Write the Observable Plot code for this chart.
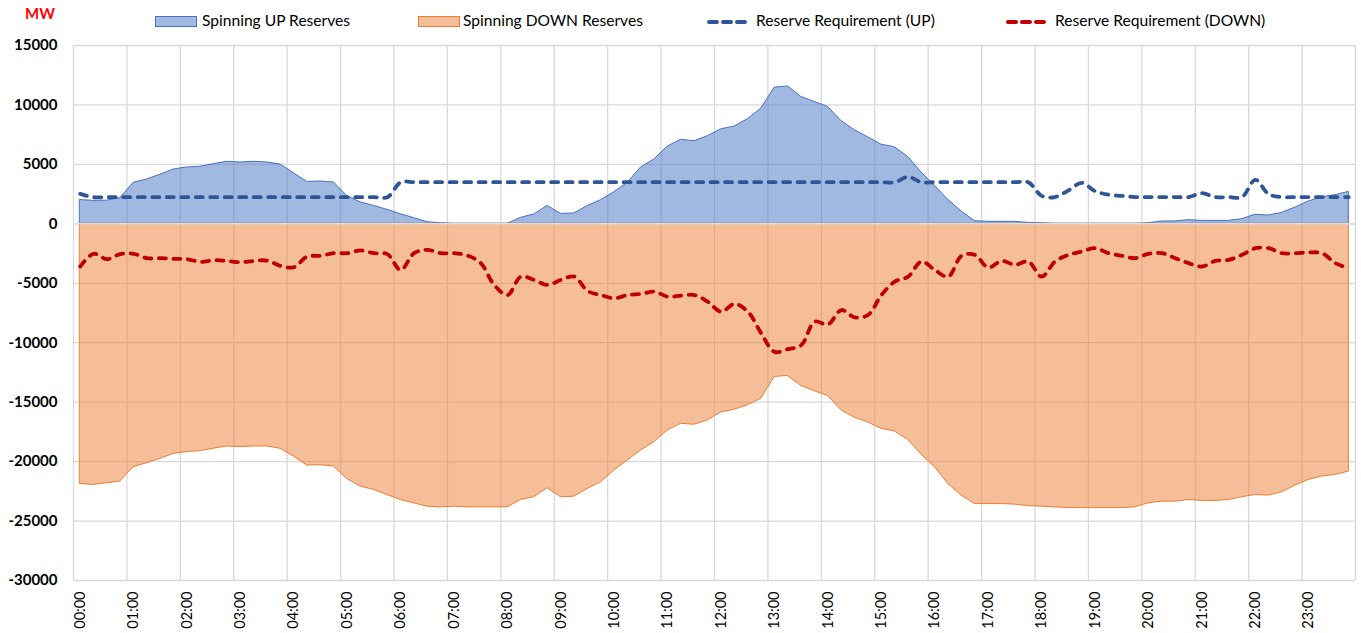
<!DOCTYPE html>
<html>
<head>
<meta charset="utf-8">
<script src="https://cdn.jsdelivr.net/npm/d3@7"></script>
<script src="https://cdn.jsdelivr.net/npm/@observablehq/plot@0.6"></script>
<style>
  html, body { margin: 0; padding: 0; background: #fff; }
  body { width: 1361px; height: 633px; overflow: hidden; font-family: Lato, "Open Sans", sans-serif; }
  #legend { position: relative; height: 36px; width: 1361px; }
  #legend .t { position: absolute; top: 11px; font-size: 15.6px; color: #000; line-height: 18px; white-space: nowrap; }
  #legend svg { position: absolute; }
  #mw { position: absolute; left: 25px; top: 5px; color: #ff0000; font-weight: bold; font-size: 15px; line-height: 16px; }
</style>
</head>
<body>
<div id="legend">
  <div id="mw">MW</div>
  <svg style="left:154px;top:15px" width="46" height="14"><rect x="1.5" y="1.5" width="41" height="10" fill="#4472c4" fill-opacity="0.5" stroke="#4472c4" stroke-width="1"/></svg>
  <div class="t" style="left:202px">Spinning UP Reserves</div>
  <svg style="left:417px;top:15px" width="46" height="14"><rect x="1.5" y="1.5" width="41" height="10" fill="#ed7d31" fill-opacity="0.5" stroke="#ed7d31" stroke-width="1"/></svg>
  <div class="t" style="left:463px">Spinning DOWN Reserves</div>
  <svg style="left:706px;top:15px" width="46" height="14"><line x1="3" y1="7" x2="42" y2="7" stroke="#2f5597" stroke-width="4" stroke-linecap="round" stroke-dasharray="8,6"/></svg>
  <div class="t" style="left:756px">Reserve Requirement (UP)</div>
  <svg style="left:1005px;top:15px" width="46" height="14"><line x1="3" y1="7" x2="42" y2="7" stroke="#c00000" stroke-width="4" stroke-linecap="round" stroke-dasharray="8,6"/></svg>
  <div class="t" style="left:1055px">Reserve Requirement (DOWN)</div>
</div>
<div id="chart"></div>
<script>
// 15-minute categories
const times = [
  "00:00","00:15","00:30","00:45","01:00","01:15","01:30","01:45",
  "02:00","02:15","02:30","02:45","03:00","03:15","03:30","03:45",
  "04:00","04:15","04:30","04:45","05:00","05:15","05:30","05:45",
  "06:00","06:15","06:30","06:45","07:00","07:15","07:30","07:45",
  "08:00","08:15","08:30","08:45","09:00","09:15","09:30","09:45",
  "10:00","10:15","10:30","10:45","11:00","11:15","11:30","11:45",
  "12:00","12:15","12:30","12:45","13:00","13:15","13:30","13:45",
  "14:00","14:15","14:30","14:45","15:00","15:15","15:30","15:45",
  "16:00","16:15","16:30","16:45","17:00","17:15","17:30","17:45",
  "18:00","18:15","18:30","18:45","19:00","19:15","19:30","19:45",
  "20:00","20:15","20:30","20:45","21:00","21:15","21:30","21:45",
  "22:00","22:15","22:30","22:45","23:00","23:15","23:30","23:45"
];

const hourLabels = ["00:00","01:00","02:00","03:00","04:00","05:00","06:00","07:00",
  "08:00","09:00","10:00","11:00","12:00","13:00","14:00","15:00",
  "16:00","17:00","18:00","19:00","20:00","21:00","22:00","23:00"];

const yTicks = [-30000,-25000,-20000,-15000,-10000,-5000,0,5000,10000,15000];

const spinningUp = [
  2000,1930,1950,2150,3450,3730,4120,4570,4740,4800,5020,5220,5160,5220,5160,4990,
  4260,3530,3560,3480,2330,1800,1510,1180,810,480,140,50,0,0,0,0,
  0,500,790,1510,840,870,1490,1990,2660,3450,4740,5410,6500,7070,6950,7370,
  7950,8180,8800,9690,11450,11560,10670,10250,9830,8650,7870,7280,6660,6440,5630,4310,
  3190,2020,1040,220,170,170,170,80,50,0,0,0,0,0,0,0,
  50,200,200,310,250,250,250,390,760,700,920,1370,1880,2240,2410,2690
];

const spinningDown = [
  -21880,-21960,-21820,-21680,-20470,-20130,-19770,-19350,-19200,-19120,-18920,-18730,-18780,-18730,-18730,-18920,
  -19570,-20330,-20300,-20420,-21460,-22100,-22380,-22810,-23230,-23510,-23790,-23850,-23790,-23850,-23850,-23850,
  -23850,-23230,-23000,-22240,-23000,-22950,-22300,-21740,-20750,-19910,-19060,-18360,-17380,-16820,-16900,-16530,
  -15860,-15630,-15270,-14710,-12880,-12790,-13640,-14090,-14480,-15690,-16310,-16700,-17240,-17460,-18170,-19400,
  -20470,-21880,-22860,-23570,-23570,-23570,-23620,-23740,-23790,-23850,-23910,-23910,-23910,-23910,-23910,-23850,
  -23510,-23370,-23370,-23230,-23310,-23310,-23230,-23000,-22810,-22860,-22580,-22020,-21540,-21260,-21120,-20840
];

const requirementUp = [
  2520,2240,2240,2240,2240,2240,2240,2240,2240,2240,2240,2240,2240,2240,2240,2240,
  2240,2240,2240,2240,2240,2240,2240,2240,3500,3500,3500,3500,3500,3500,3500,3500,
  3500,3500,3500,3500,3500,3500,3500,3500,3500,3500,3500,3500,3500,3500,3500,3500,
  3500,3500,3500,3500,3500,3500,3500,3500,3500,3500,3500,3500,3500,3500,3950,3500,
  3500,3500,3500,3500,3500,3500,3500,3500,2350,2250,2800,3450,2750,2450,2350,2250,
  2250,2250,2250,2250,2580,2250,2250,2250,3700,2490,2250,2250,2250,2250,2250,2250
];

const requirementDown = [
  -3590,-2520,-2970,-2550,-2520,-2890,-2890,-2950,-2970,-3200,-3060,-3120,-3230,-3120,-3090,-3540,
  -3650,-2750,-2690,-2470,-2470,-2240,-2470,-2550,-3880,-2470,-2190,-2470,-2470,-2670,-3310,-5140,
  -5990,-4440,-4720,-5140,-4720,-4440,-5650,-5990,-6270,-5990,-5900,-5700,-6130,-6040,-5990,-6550,
  -7390,-6740,-7390,-9220,-10770,-10540,-10200,-8240,-8460,-7250,-7870,-7670,-5990,-4860,-4440,-3170,
  -3880,-4440,-2690,-2610,-3680,-3120,-3450,-3170,-4440,-3170,-2610,-2330,-2050,-2470,-2690,-2890,
  -2520,-2470,-2890,-3310,-3590,-3120,-3030,-2610,-2050,-2050,-2470,-2470,-2410,-2470,-3310,-3730
];

const rows = times.map((t, i) => ({
  i, t,
  up: spinningUp[i],
  down: spinningDown[i],
  reqUp: requirementUp[i],
  reqDown: requirementDown[i]
}));

const hourIdx = hourLabels.map(h => times.indexOf(h));
const boundaries = hourIdx.map(i => i - 0.5).concat([times.length - 0.5]);

const chart = Plot.plot({
  width: 1361,
  height: 597,
  marginTop: 9,
  marginLeft: 73,
  marginRight: 6,
  marginBottom: 53,
  style: { fontFamily: "Lato, 'Open Sans', sans-serif", fontSize: "14px", background: "#fff", color: "#000" },
  x: { type: "linear", domain: [-0.5, times.length - 0.5] },
  y: { domain: [-30000, 15000] },
  marks: [
    Plot.ruleY(yTicks, { stroke: "#d9d9d9", strokeWidth: 1.3 }),
    Plot.ruleX(boundaries, { stroke: "#d9d9d9", strokeWidth: 1.3 }),
    Plot.areaY(rows, { x: "i", y: "up", fill: "#4472c4", fillOpacity: 0.5, stroke: "#4472c4", strokeWidth: 1 }),
    Plot.areaY(rows, { x: "i", y: "down", fill: "#ed7d31", fillOpacity: 0.5, stroke: "#ed7d31", strokeWidth: 1 }),
    Plot.ruleY([0], { stroke: "#dedede", strokeWidth: 1.5 }),
    Plot.lineY(rows, { x: "i", y: "reqUp", stroke: "#2f5597", strokeWidth: 3.8, strokeDasharray: "7,7.5", strokeLinecap: "round", curve: "catmull-rom" }),
    Plot.lineY(rows, { x: "i", y: "reqDown", stroke: "#c00000", strokeWidth: 3.8, strokeDasharray: "7,7.5", strokeLinecap: "round", curve: "catmull-rom" }),
    Plot.axisY({ ticks: yTicks, tickSize: 0, tickPadding: 16, fontWeight: "bold", fontSize: 15, label: null, fill: "#000", tickFormat: d => String(d) }),
    Plot.axisX({ ticks: hourIdx, tickFormat: i => times[i], tickRotate: -90, tickSize: 0, tickPadding: 11, fontSize: 14.5, label: null, fill: "#000" })
  ]
});
document.getElementById("chart").appendChild(chart);
</script>
</body>
</html>
